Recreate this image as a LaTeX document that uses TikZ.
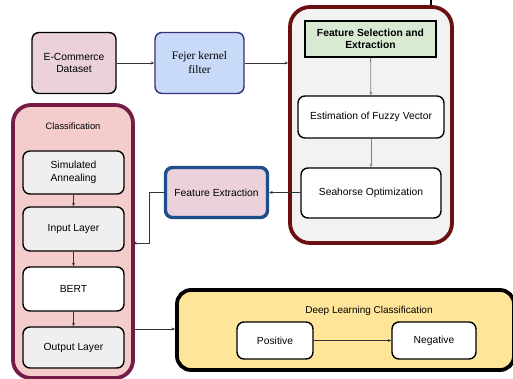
\documentclass[tikz,border=0pt]{standalone}
\usepackage{fontspec}
\setmainfont{Liberation Sans}
\newfontfamily\serifff{Liberation Serif}
\usetikzlibrary{arrows.meta,positioning,calc}
\definecolor{dspink}{HTML}{EAD1DC}
\definecolor{fejblue}{HTML}{C9DAF8}
\definecolor{fejborder}{HTML}{35307A}
\definecolor{bigred}{HTML}{6B1010}
\definecolor{biggray}{HTML}{F2F2F2}
\definecolor{fsgreen}{HTML}{D9EAD3}
\definecolor{clspink}{HTML}{F4CCCC}
\definecolor{clsborder}{HTML}{741B47}
\definecolor{lgray}{HTML}{EFEFEF}
\definecolor{feblue}{HTML}{1F4E8C}
\definecolor{dlyellow}{HTML}{FFE599}
\tikzset{
  x=1pt,y=-1pt,
  box/.style={draw=black,line width=1.4pt,rounded corners=7pt,align=center,font=\fontsize{10.3}{12.5}\selectfont,inner sep=0pt},
  bigbox/.style={line width=3.8pt,align=center,inner sep=0pt},
  arr/.style={-{Stealth[length=3.5pt,width=3pt]},line width=0.6pt,draw=black!80},
  garr/.style={-{Stealth[length=3.5pt,width=3pt]},line width=0.8pt,draw=black!50},
}
\begin{document}
\begin{tikzpicture}
\useasboundingbox[fill=white] (0,0) rectangle (513,379);
% top artifact line
\coordinate (topc) at (431,0);
% big feature selection container
\node[bigbox,draw=bigred,fill=biggray,rounded corners=20pt,minimum width=162pt,minimum height=236pt] (fsbig) at (371,125) {};
\draw[line width=1.6pt] (topc) -- (topc |- fsbig.north);
% Ecommerce
\node[box,fill=dspink,minimum width=84pt,minimum height=61pt] (ds) at (74,63) {E-Commerce\\Dataset};
\node[box,draw=fejborder,fill=fejblue,minimum width=89pt,minimum height=61pt,font=\serifff\fontsize{11.5}{14}\selectfont] (fej) at (199.5,63) {Fejer kernel\\filter};
\draw[arr] (ds) -- (fej);
\draw[arr] (fej.east) -- (fej.east -| fsbig.west);
% inner
\node[draw=black,line width=1.4pt,fill=fsgreen,minimum width=131pt,minimum height=36pt,align=center,inner sep=0pt,font=\bfseries\fontsize{10.3}{12.5}\selectfont] (fs) at (370.5,39) {Feature Selection and\\Extraction};
\node[box,fill=white,minimum width=146pt,minimum height=42pt] (est) at (371,117) {Estimation of Fuzzy Vector};
\node[box,fill=white,minimum width=140pt,minimum height=50pt] (sea) at (371,193) {Seahorse Optimization};
\draw[garr] (fs) -- (est);
\draw[garr] (est) -- (sea);
% feature extraction
\node[box,draw=feblue,line width=3.4pt,fill=dspink,minimum width=102pt,minimum height=50pt] (fe) at (216.5,192.5) {Feature Extraction};
\draw[arr] (sea.west |- fe.east) -- (fe.east);
% classification
\node[bigbox,draw=clsborder,fill=clspink,rounded corners=18pt,minimum width=120pt,minimum height=273pt] (cls) at (73,241.5) {};
\node[font=\fontsize{9.3}{11}\selectfont] (clst) at (73,126) {Classification};
\node[box,fill=lgray,minimum width=101pt,minimum height=43pt] (sa) at (73.5,172.5) {Simulated\\Annealing};
\node[box,fill=lgray,minimum width=101pt,minimum height=44pt] (il) at (73.5,229) {Input Layer};
\node[box,fill=white,minimum width=101pt,minimum height=44pt] (bert) at (73.5,289) {BERT};
\node[box,fill=lgray,minimum width=101pt,minimum height=41pt] (ol) at (73.5,347.5) {Output Layer};
\draw[arr] (sa) -- (il);
\draw[arr] (il) -- (bert);
\draw[arr] (bert) -- (ol);
\coordinate (clsin) at (133,243);
\draw[arr] (fe.west) -- ++(-15,0) |- (clsin);
% deep learning
\node[bigbox,draw=black,fill=dlyellow,rounded corners=14pt,minimum width=337pt,minimum height=80pt] (dl) at (345.5,330) {};
\node[font=\fontsize{10}{12}\selectfont] (dlt) at (369,311) {Deep Learning Classification};
\node[box,fill=white,minimum width=76pt,minimum height=37pt] (pos) at (275,340.5) {Positive};
\node[box,fill=white,minimum width=84pt,minimum height=37pt] (neg) at (434,340.5) {Negative};
\draw[arr] (pos) -- (neg);
\coordinate (clsout) at (133,329);
\draw[arr] (clsout) -- (clsout -| dl.west);
\end{tikzpicture}
\end{document}
